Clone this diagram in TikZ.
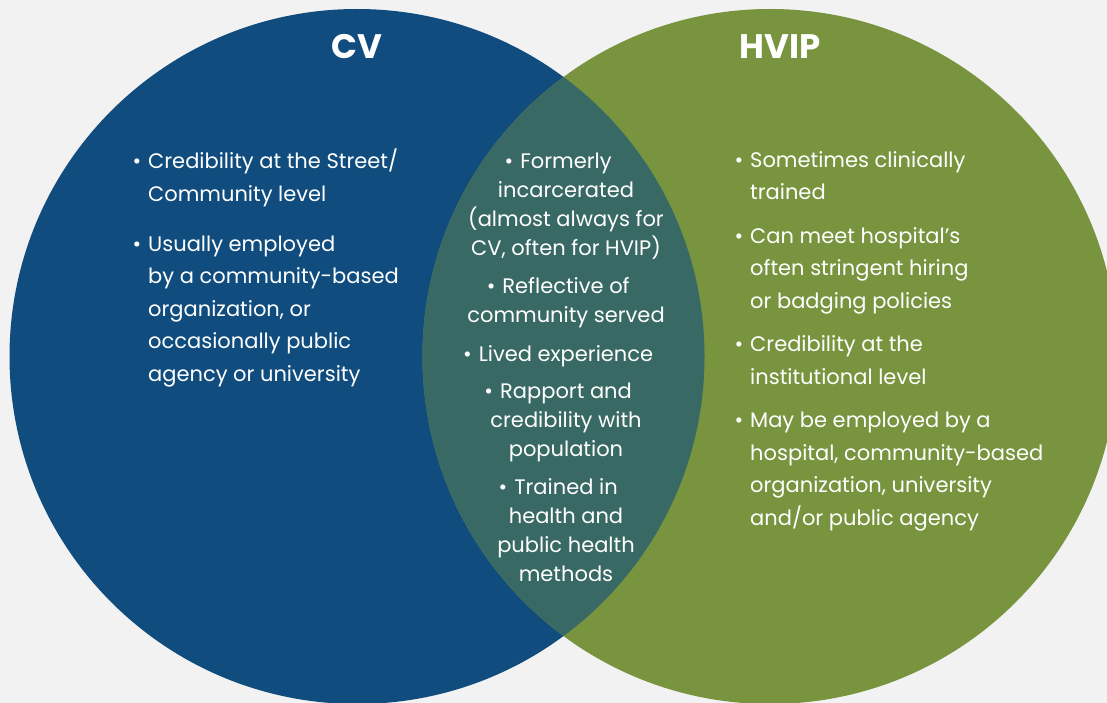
\documentclass[tikz,border=0pt]{standalone}
\usepackage{fontspec}
\setmainfont{Poppins}
\usetikzlibrary{positioning}
\definecolor{cvblue}{RGB}{16,77,126}
\definecolor{hvipgreen}{RGB}{120,148,62}
\definecolor{bothteal}{RGB}{57,105,100}
\definecolor{paper}{RGB}{242,242,242}
\newcommand{\bul}{\llap{\textbullet\hspace{7pt}}}
\tikzset{
    title/.style={text=white, inner sep=0pt, font=\fontsize{34}{40}\selectfont\bfseries}, % circle headings
    point/.style={text=white, anchor=base west, align=left, inner sep=0pt, font=\fontsize{21}{32.5}\selectfont}, % side lists, placed at last baseline
    shared/.style={text=white, anchor=base, align=center, inner sep=0pt, font=\fontsize{21}{29}\selectfont}, % overlap list, placed at last baseline
}
\begin{document}
\begin{tikzpicture}[x=1pt, y=-1pt]
    \fill[paper] (0,0) rectangle (1107,703);
    \useasboundingbox (0,0) rectangle (1107,703);
    % the two circles and their overlap
    \fill[cvblue] (357,356.5) circle (347.5);
    \fill[hvipgreen] (770,356.5) circle (347.5);
    \begin{scope}
        \clip (357,356.5) circle (347.5);
        \fill[bothteal] (770,356.5) circle (347.5);
    \end{scope}
    \node[title] (cv) at (357,47) {CV};
    \node[title] (hvip) at (780,47) {HVIP};
    % CV side
    \node[point] (cv1) at (148,201.5) {\bul Credibility at the Street/\\Community level};
    \node[point] (cv2) at (148,381) {\bul Usually employed\\by a community-based\\organization, or\\occasionally public\\agency or university};
    % shared
    \node[shared] (both1) at (566,255) {\bul Formerly\\incarcerated\\(almost always for\\CV, often for HVIP)};
    \node[shared] (both2) at (566,322) {\bul Reflective of\\community served};
    \node[shared] (both3) at (566,361) {\bul Lived experience};
    \node[shared] (both4) at (566,456) {\bul Rapport and\\credibility with\\population};
    \node[shared] (both5) at (566,581) {\bul Trained in\\health and\\public health\\methods};
    % HVIP side
    \node[point] (hv1) at (750,200) {\bul Sometimes clinically\\trained};
    \node[point] (hv2) at (750,308) {\bul Can meet hospital’s\\often stringent hiring\\or badging policies};
    \node[point] (hv3) at (750,384) {\bul Credibility at the\\institutional level};
    \node[point] (hv4) at (750,525) {\bul May be employed by a\\hospital, community-based\\organization, university\\and/or public agency};
\end{tikzpicture}
\end{document}
